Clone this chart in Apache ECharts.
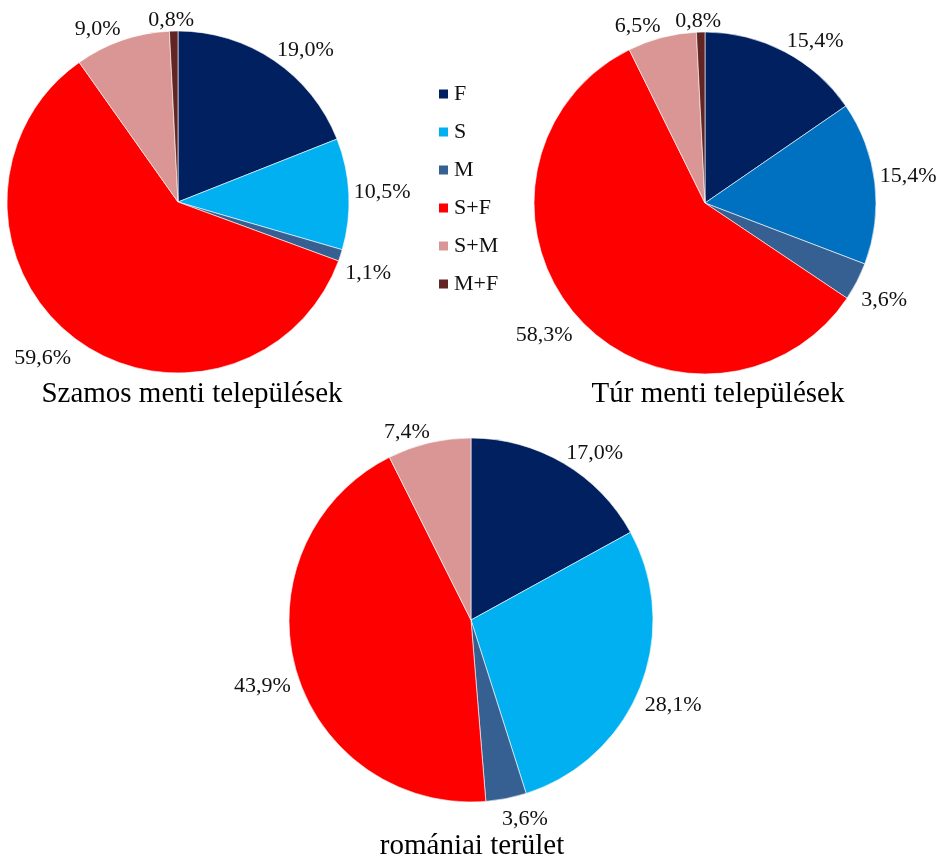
<!DOCTYPE html>
<html><head><meta charset="utf-8">
<script src="https://cdn.jsdelivr.net/npm/echarts@6/dist/echarts.min.js"></script>
<style>html,body{margin:0;padding:0;background:#fff;}#c{width:943px;height:859px;}</style>
</head><body><div id="c"></div>
<script>
// ---- data ----
const categories = ['F', 'S', 'M', 'S+F', 'S+M', 'M+F'];
const szamosValues = [19.0, 10.5, 1.1, 59.6, 9.0, 0.8];
const turValues = [15.4, 15.4, 3.6, 58.3, 6.5, 0.8];
const romaniaValues = [17.0, 28.1, 3.6, 43.9, 7.4, 0];
const chartTitles = ['Szamos menti települések', 'Túr menti települések', 'romániai terület'];

// ---- style ----
const FONT = '"Liberation Serif", "Times New Roman", serif';
const baseColors = ['#002060', '#00B0F0', '#366092', '#FF0000', '#D99694', '#632523'];
const turColors = ['#002060', '#0070C0', '#366092', '#FF0000', '#D99694', '#632523'];
const GAP = 5;
const LABEL_DROP = 5;

function clamp(v) { return Math.max(-1, Math.min(1, v)); }

// Excel-like "outside end" placement: the label box is anchored to the point just
// outside the slice edge (on the mid-angle ray) by its nearest corner/edge.
function placeLabel(params) {
  const pts = params.labelLinePoints;
  if (!pts) return {};
  const p0 = pts[0], p1 = pts[1];
  let dx = p1[0] - p0[0], dy = p1[1] - p0[1];
  const len = Math.hypot(dx, dy) || 1;
  dx /= len; dy /= len;
  const w = params.labelRect.width, h = params.labelRect.height;
  const px = p0[0] + dx * GAP, py = p0[1] + dy * GAP;
  return {
    x: px + clamp(dx * 4) * w / 2,
    y: py + clamp(dy * 12) * h / 2 + LABEL_DROP,
    align: 'center', verticalAlign: 'middle'
  };
}

function pieSeries(name, values, colors, center, radius) {
  return {
    type: 'pie', name: name, center: center, radius: radius,
    startAngle: 90, clockwise: true, avoidLabelOverlap: false, animation: false,
    data: categories.map((c, i) => ({ name: c, value: values[i], itemStyle: { color: colors[i] } }))
                    .filter(d => d.value > 0),
    itemStyle: { borderColor: '#ffffff', borderWidth: 0.6 },
    label: {
      show: true, position: 'outside',
      formatter: p => p.value.toFixed(1).replace('.', ',') + '%',
      fontFamily: FONT, fontSize: 22, color: '#111'
    },
    labelLine: { show: true, length: 10, length2: 0, lineStyle: { opacity: 0 } },
    labelLayout: placeLabel,
    emphasis: { disabled: true }
  };
}

const chart = echarts.init(document.getElementById('c'), null, { renderer: 'canvas' });
chart.setOption({
  backgroundColor: '#ffffff',
  legend: {
    data: categories, orient: 'vertical', left: 432, top: 78,
    icon: 'rect', itemWidth: 11, itemHeight: 11, itemGap: 16,
    textStyle: { fontFamily: FONT, fontSize: 22, color: '#111' },
    selectedMode: false
  },
  graphic: [
    { type: 'text', x: 192, y: 394, style: { text: chartTitles[0], font: '29px ' + FONT, fill: '#000', align: 'center', verticalAlign: 'middle' } },
    { type: 'text', x: 718, y: 394, style: { text: chartTitles[1], font: '29px ' + FONT, fill: '#000', align: 'center', verticalAlign: 'middle' } },
    { type: 'text', x: 472, y: 846, style: { text: chartTitles[2], font: '29px ' + FONT, fill: '#000', align: 'center', verticalAlign: 'middle' } }
  ],
  series: [
    pieSeries(chartTitles[0], szamosValues, baseColors, [178, 202], 171),
    pieSeries(chartTitles[1], turValues, turColors, [705, 203], 171),
    pieSeries(chartTitles[2], romaniaValues, baseColors, [471, 620], 182)
  ]
});
</script>
</body></html>
